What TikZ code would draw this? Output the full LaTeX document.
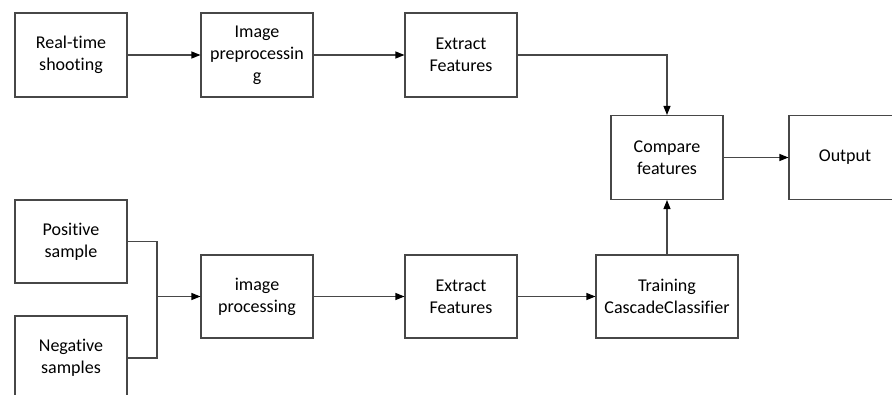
\documentclass[tikz,border=0pt]{standalone}
\usepackage{fontspec}
\setmainfont{Carlito}[Ligatures={NoCommon,NoRare},RawFeature={-liga;-dlig}]
\usetikzlibrary{arrows.meta}
\begin{document}
\begin{tikzpicture}[x=1pt,y=1pt,
  box/.style={draw=black!72,line width=1.1pt,fill=white,align=center,inner sep=0pt,font=\fontsize{18}{22}\selectfont},
  conn/.style={draw=black!72,line width=1.1pt},
  arr/.style={conn,-{Triangle[length=9pt,width=7pt,color=black]}}]
\useasboundingbox (0,0) rectangle (892,-394);
\fill[white] (0,0) rectangle (892,-394);
\node[box,minimum width=112pt,minimum height=84pt] (rts) at (71,-55) {Real-time\\shooting};
\node[box,minimum width=112pt,minimum height=84pt] (pre) at (257,-55) {Image\\preprocessin\\g};
\node[box,minimum width=112pt,minimum height=84pt] (ef1) at (461,-55) {Extract\\Features};
\node[box,minimum width=112pt,minimum height=84pt] (cmp) at (667,-157.5) {Compare\\features};
\node[box,minimum width=112pt,minimum height=84pt] (out) at (845,-157.5) {Output};
\node[box,minimum width=112pt,minimum height=83pt] (pos) at (71,-241.5) {Positive\\sample};
\node[box,minimum width=112pt,minimum height=84pt] (neg) at (71,-358) {Negative\\samples};
\node[box,minimum width=112pt,minimum height=83pt] (ip) at (257,-296.5) {image\\processing};
\node[box,minimum width=112pt,minimum height=83pt] (ef2) at (461,-296.5) {Extract\\Features};
\node[box,minimum width=142pt,minimum height=83pt] (tcc) at (667,-296.5) {Training\\CascadeClassifier};
\coordinate (m) at (157,-296.5);
\draw[arr] (rts.east) -- (pre.west);
\draw[arr] (pre.east) -- (ef1.west);
\draw[arr] (ef1.east) -| (cmp.north);
\draw[arr] (cmp.east) -- (out.west);
\draw[conn] (pos.east) -| (m);
\draw[conn] (neg.east) -| (m);
\draw[arr] (m) -- (ip.west);
\draw[arr] (ip.east) -- (ef2.west);
\draw[arr] (ef2.east) -- (tcc.west);
\draw[arr] (tcc.north) -- (cmp.south);
\end{tikzpicture}
\end{document}
